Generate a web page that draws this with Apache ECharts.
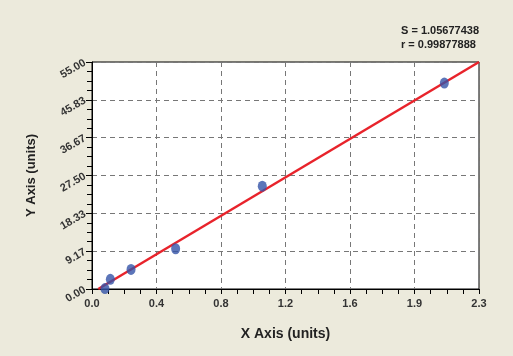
<!DOCTYPE html>
<html><head><meta charset="utf-8">
<script src="https://cdn.jsdelivr.net/npm/echarts@6/dist/echarts.min.js"></script>
<style>html,body{margin:0;padding:0;background:#ECEADC;}#c{width:513px;height:356px;}</style>
</head><body><div id="c"></div>
<script>
var xTickLabels = ['0.0','0.4','0.8','1.2','1.6','1.9','2.3'];
var yTickLabels = ['0.00','9.17','18.33','27.50','36.67','45.83','55.00'];
var pointX = [0.077, 0.109, 0.232, 0.497, 1.012, 2.094];
var pointY = [0.1, 2.35, 4.75, 9.75, 24.9, 49.9];
var fitX = [0.037, 2.3];
var fitY = [0, 55];
var statLines = ['S = 1.05677438', 'r = 0.99877888'];
var xName = 'X Axis (units)';
var yName = 'Y Axis (units)';
var xMax = 2.3, yMax = 55;

var pts = pointX.map(function(x,i){return [x, pointY[i]];});
var fit = fitX.map(function(x,i){return [x, fitY[i]];});
var chart = echarts.init(document.getElementById('c'));
chart.setOption({
  backgroundColor: '#ECEADC',
  animation: false,
  grid: {left: 92, right: 34, top: 62, bottom: 67, show: true, backgroundColor: '#fff', borderColor: '#000', borderWidth: 1},
  graphic: [{
    type: 'text', right: 34, top: 24,
    style: {text: statLines.join('\n'), align: 'right', fontFamily: 'Liberation Sans, Arial', fontSize: 11, fontWeight: 'bold', fill: '#222', lineHeight: 14}
  }],
  xAxis: {
    type: 'value', min: 0, max: xMax, interval: xMax/6,
    name: xName, nameLocation: 'middle', nameGap: 38,
    nameTextStyle: {fontFamily: 'Liberation Sans, Arial', fontSize: 14, fontWeight: 'bold', color: '#222'},
    axisLine: {show: true, lineStyle: {color: '#000', width: 1}},
    axisTick: {show: true, length: 5, lineStyle: {color: '#000'}},
    minorTick: {show: true, splitNumber: 4, length: 5, lineStyle: {color: '#000'}},
    splitLine: {show: true, lineStyle: {color: '#777', type: [5,4], width: 1}},
    axisLabel: {
      fontFamily: 'Liberation Sans, Arial', fontSize: 11, fontWeight: 'bold', color: '#333', margin: 9,
      formatter: function(v){ return xTickLabels[Math.round(v/(xMax/6))]; }
    }
  },
  yAxis: {
    type: 'value', min: 0, max: yMax, interval: yMax/6,
    name: yName, nameLocation: 'middle', nameGap: 54, nameRotate: 90,
    nameTextStyle: {fontFamily: 'Liberation Sans, Arial', fontSize: 13, fontWeight: 'bold', color: '#222'},
    axisLine: {show: true, lineStyle: {color: '#000', width: 1}},
    axisTick: {show: true, length: 6, lineStyle: {color: '#000'}},
    minorTick: {show: true, splitNumber: 4, length: 5, lineStyle: {color: '#000'}},
    splitLine: {show: true, lineStyle: {color: '#777', type: [5,4], width: 1}},
    axisLabel: {
      fontFamily: 'Liberation Sans, Arial', fontSize: 11, fontWeight: 'bold', color: '#333', margin: 7, rotate: 30,
      formatter: function(v){ return yTickLabels[Math.round(v/(yMax/6))]; }
    }
  },
  series: [
    {type: 'line', data: fit, symbol: 'none', lineStyle: {color: '#E8232B', width: 2.5}, z: 3},
    {type: 'scatter', data: pts, symbol: 'circle', symbolSize: [9, 11], itemStyle: {color: '#3352A8'}, z: 4}
  ]
});
</script></body></html>
